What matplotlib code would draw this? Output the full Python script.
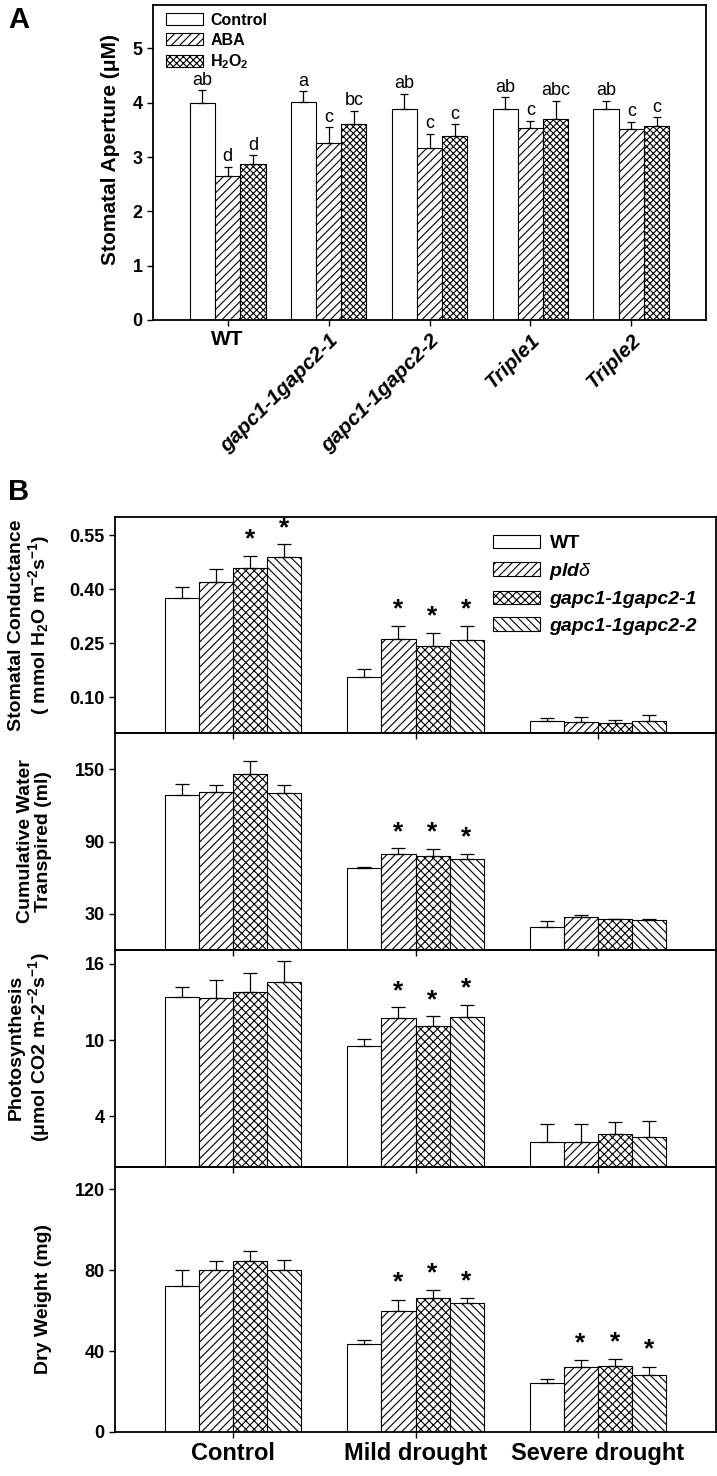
import numpy as np
import matplotlib
matplotlib.use("Agg")
import matplotlib.pyplot as plt

plt.rcParams['font.family'] = ['Liberation Sans', 'DejaVu Sans']
plt.rcParams['mathtext.fontset'] = 'custom'
plt.rcParams['mathtext.rm'] = 'Liberation Sans'
plt.rcParams['mathtext.it'] = 'Liberation Sans:italic'
plt.rcParams['mathtext.bf'] = 'Liberation Sans:bold'
plt.rcParams['hatch.linewidth'] = 0.8

# ---- Panel A data: stomatal aperture ----
lines_a = ['WT', 'gapc1-1gapc2-1', 'gapc1-1gapc2-2', 'Triple1', 'Triple2']
treat_a = ['Control', 'ABA', r'H$_\mathbf{2}$O$_\mathbf{2}$']
aperture = [[4.00, 4.01, 3.89, 3.88, 3.88],
            [2.65, 3.26, 3.17, 3.53, 3.51],
            [2.88, 3.60, 3.39, 3.71, 3.57]]
aperture_err = [[0.23, 0.20, 0.28, 0.22, 0.16],
                [0.17, 0.29, 0.26, 0.14, 0.14],
                [0.15, 0.25, 0.21, 0.33, 0.16]]
letters = [['ab', 'a', 'ab', 'ab', 'ab'],
           ['d', 'c', 'c', 'c', 'c'],
           ['d', 'bc', 'c', 'abc', 'c']]

# ---- Panel B data: per genotype, values for Control / Mild / Severe ----
conditions = ['Control', 'Mild drought', 'Severe drought']
genotypes = ['WT', r'pld$\delta$', 'gapc1-1gapc2-1', 'gapc1-1gapc2-2']

conductance = [[0.374, 0.156, 0.033], [0.420, 0.262, 0.031],
               [0.459, 0.241, 0.028], [0.488, 0.257, 0.032]]
conductance_err = [[0.031, 0.022, 0.009], [0.035, 0.036, 0.013],
                   [0.033, 0.038, 0.009], [0.036, 0.040, 0.017]]
conductance_sig = [[0, 0, 0], [0, 1, 0], [1, 1, 0], [1, 1, 0]]

water = [[128.6, 68.0, 19.4], [131.4, 80.0, 27.2],
         [146.1, 77.8, 25.6], [130.6, 75.6, 24.7]]
water_err = [[8.9, 0.6, 4.8], [5.3, 4.2, 2.2],
             [10.8, 6.1, 0.5], [6.1, 4.1, 0.6]]
water_sig = [[0, 0, 0], [0, 1, 0], [0, 1, 0], [0, 1, 0]]

photo = [[13.4, 9.55, 2.0], [13.3, 11.76, 2.0],
         [13.8, 11.1, 2.6], [14.55, 11.8, 2.34]]
photo_err = [[0.8, 0.53, 1.42], [1.46, 0.82, 1.37],
             [1.5, 0.76, 0.95], [1.65, 1.0, 1.29]]
photo_sig = [[0, 0, 0], [0, 1, 0], [0, 1, 0], [0, 1, 0]]

dry = [[72.2, 43.6, 24.0], [80.0, 60.0, 32.1],
       [84.6, 66.3, 32.7], [80.0, 63.7, 28.3]]
dry_err = [[7.9, 2.0, 2.2], [4.3, 5.2, 3.3],
           [4.9, 3.8, 3.3], [4.9, 2.3, 3.8]]
dry_sig = [[0, 0, 0], [0, 1, 1], [0, 1, 1], [0, 1, 1]]

W, H = 717, 1476
fig = plt.figure(figsize=(W / 100, H / 100), dpi=100)


def px_axes(left, right, top, bottom):
    return fig.add_axes([left / W, 1 - bottom / H, (right - left) / W, (bottom - top) / H])


def style_axes(ax):
    for s in ax.spines.values():
        s.set_linewidth(1.3)
    ax.tick_params(direction='out', length=4, width=1, labelsize=13)
    for lab in ax.get_yticklabels():
        lab.set_fontweight('bold')
    ax.patch.set_alpha(0)


# ================= Panel A =================
axA = px_axes(153, 706, 5, 320)
xa = np.arange(len(lines_a))
wa = 0.25
hatch_a = [None, '////', 'xxxxx']
for i in range(3):
    pos = xa + (i - 1) * wa
    axA.bar(pos, aperture[i], wa, color='white', edgecolor='black',
            hatch=hatch_a[i], linewidth=0.8, label=treat_a[i])
    axA.errorbar(pos, aperture[i], yerr=[np.zeros(len(xa)), aperture_err[i]],
                 fmt='none', ecolor='black', elinewidth=0.9, capsize=3, capthick=0.9)
    for j in range(len(xa)):
        axA.text(pos[j], aperture[i][j] + aperture_err[i][j] + 0.03, letters[i][j],
                 ha='center', va='bottom', fontsize=13)
axA.set_xlim(-0.74, 4.74)
axA.set_ylim(0, 5.8)
axA.set_yticks(range(6))
axA.set_xticks(xa)
axA.set_xticklabels(lines_a)
style_axes(axA)
for k, lab in enumerate(axA.get_xticklabels()):
    lab.set_fontweight('bold')
    lab.set_fontsize(15)
    if k > 0:
        lab.set_fontstyle('italic')
        lab.set_rotation(45)
        lab.set_ha('right')
        lab.set_rotation_mode('anchor')
axA.set_ylabel(u'Stomatal Aperture (\u03bcM)', fontsize=15, fontweight='bold')
axA.yaxis.set_label_coords(-0.06, 0.54)
axA.legend(loc='upper left', bbox_to_anchor=(0.0, 1.016), frameon=False,
           prop={'weight': 'bold', 'size': 11.5}, handlelength=2.3, handleheight=0.8,
           labelspacing=0.3, handletextpad=0.5, borderpad=0.3)
fig.text(8 / W, 1 - 20 / H, 'A', fontsize=21, fontweight='bold', va='center')

# ================= Panel B =================
xb = np.arange(len(conditions))
wb = 0.187
hatch_b = [None, '////', 'xxxx', '\\\\\\\\']
bounds = [(517, 733), (733, 950), (950, 1167), (1167, 1432)]
datasets = [
    (conductance, conductance_err, conductance_sig, (0, 0.6), [0.10, 0.25, 0.40, 0.55],
     '%.2f', 'Stomatal Conductance\n' + r'( mmol H$_\mathbf{2}$O m$^\mathbf{-2}$s$^\mathbf{-1}$)', 0.5),
    (water, water_err, water_sig, (0, 180), [30, 90, 150],
     '%d', 'Cumulative Water\nTranspired (ml)', 0.5),
    (photo, photo_err, photo_sig, (0, 17.1), [4, 10, 16],
     '%d', 'Photosynthesis\n' + u'(\u03bcmol CO2 m-2$^\\mathbf{-2}$s$^\\mathbf{-1}$)', 0.55),
    (dry, dry_err, dry_sig, (0, 131), [0, 40, 80, 120],
     '%d', 'Dry Weight (mg)', 0.5),
]

axes_b = []
for (top, bottom), (vals, errs, sig, ylim, yt, fmt, ylab, ly) in zip(bounds, datasets):
    ax = px_axes(115, 716, top, bottom)
    axes_b.append(ax)
    span = ylim[1] - ylim[0]
    for g in range(len(genotypes)):
        pos = xb + (g - 1.5) * wb
        ax.bar(pos, vals[g], wb, color='white', edgecolor='black', hatch=hatch_b[g],
               linewidth=0.8, label=genotypes[g])
        ax.errorbar(pos, vals[g], yerr=[np.zeros(len(xb)), errs[g]], fmt='none',
                    ecolor='black', elinewidth=0.9, capsize=5, capthick=0.9)
        for c in range(len(xb)):
            if sig[g][c]:
                ax.text(pos[c], vals[g][c] + errs[g][c] + span * 0.02, '*',
                        ha='center', va='bottom', fontsize=19, fontweight='bold')
    ax.set_xlim(-0.65, 2.65)
    ax.set_ylim(*ylim)
    ax.set_yticks(yt)
    ax.set_yticklabels([fmt % v for v in yt])
    ax.set_xticks(xb)
    ax.set_xticklabels([])
    style_axes(ax)
    ax.set_ylabel(ylab, fontsize=14, fontweight='bold', linespacing=1.05)
    ax.yaxis.set_label_coords(-0.105, ly)

axes_b[-1].set_xticklabels(conditions, fontsize=17, fontweight='bold')
for k, lab in enumerate(axes_b[0].legend(loc='upper left', bbox_to_anchor=(0.6, 1.0),
                                          frameon=False, prop={'weight': 'bold', 'size': 14},
                                          handlelength=2.4, handleheight=0.7,
                                          labelspacing=0.45, handletextpad=0.5,
                                          borderpad=0.4).get_texts()):
    if k > 0:
        lab.set_fontstyle('italic')
fig.text(8 / W, 1 - 492 / H, 'B', fontsize=21, fontweight='bold', va='center')

fig.savefig('out.png', dpi=100)
